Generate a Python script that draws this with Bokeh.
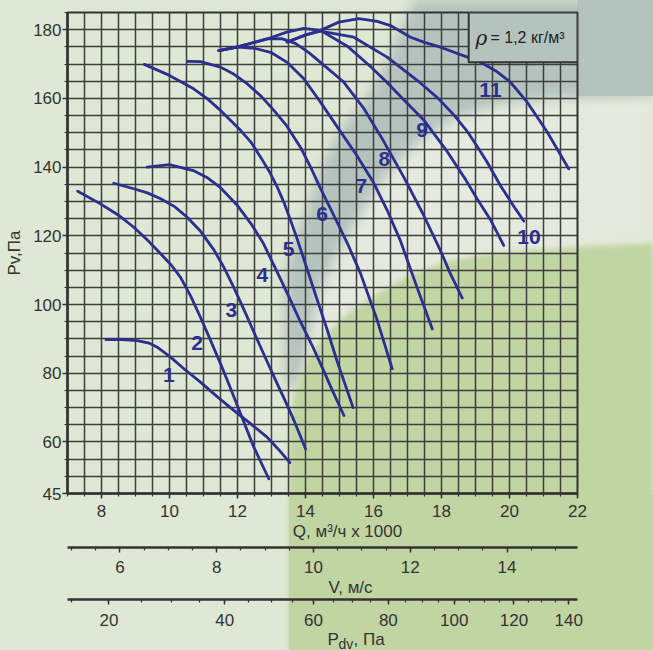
from urllib.parse import quote

import numpy as np
from bokeh.plotting import figure
from bokeh.layouts import column
from bokeh.models import (Range1d, FixedTicker, Label, BoxAnnotation,
                          CustomJSTickFormatter, Styles)
from bokeh.core.properties import value
from bokeh.embed import file_html
from bokeh.resources import INLINE

# ---------------------------------------------------------------------------
# Fan curves: flow Q (thousand m3/h) against static pressure Pv (Pa)
# ---------------------------------------------------------------------------
q1 = [8.13, 8.6, 9.05, 9.4, 9.64, 10.03, 10.45, 10.91, 11.4, 11.89, 12.4, 12.87, 13.2, 13.54]
p1 = [89.8, 89.8, 89.5, 88.8, 87.6, 84.7, 81.1, 77.4, 73.2, 69.2, 65.2, 61.4, 57.9, 54.0]

q2 = [7.30, 7.97, 8.5, 8.95, 9.35, 9.74, 10.05, 10.32, 10.62, 10.91, 11.2, 11.5, 11.8, 12.09, 12.48, 12.92]
p2 = [133.0, 129.3, 126.0, 122.5, 118.8, 114.8, 111.5, 108.0, 102.5, 96.3, 89.7, 82.8, 75.5, 68.2, 58.5, 49.3]

q3 = [8.36, 8.95, 9.35, 9.74, 10.15, 10.52, 10.9, 11.3, 11.6, 11.89, 12.2, 12.48, 12.83, 13.17, 13.42, 13.66, 14.0]
p3 = [135.3, 133.7, 132.5, 130.8, 128.5, 125.4, 121.5, 116.0, 110.8, 105.0, 98.3, 92.0, 84.3, 76.9, 71.6, 66.3, 58.0]

q4 = [9.34, 10.0, 10.7, 11.1, 11.5, 12.0, 12.4, 12.75, 13.2, 13.5, 13.85, 14.2, 14.5, 14.8, 15.13]
p4 = [140.0, 140.7, 139.0, 137.0, 134.0, 128.8, 123.5, 118.0, 108.8, 102.5, 95.0, 88.0, 81.5, 74.8, 67.7]

q5 = [9.26, 9.93, 10.71, 11.1, 11.5, 12.09, 12.4, 12.68, 12.93, 13.17, 13.37, 13.56, 13.73, 13.9, 14.34, 14.65, 14.93, 15.4]
p5 = [169.9, 167.0, 162.8, 160.0, 156.5, 150.7, 147.2, 142.9, 138.8, 134.2, 129.6, 124.5, 119.8, 114.8, 101.5, 92.3, 83.5, 70.0]

q6 = [10.52, 10.91, 11.5, 11.9, 12.29, 12.7, 13.07, 13.45, 13.85, 14.15, 14.44, 14.93, 15.26, 15.62, 16.11, 16.55]
p6 = [170.8, 170.7, 169.1, 167.0, 164.2, 160.6, 156.5, 152.0, 145.8, 140.0, 133.8, 124.0, 117.2, 109.0, 95.4, 81.3]

q7 = [11.45, 12.0, 12.5, 13.0, 13.46, 13.95, 14.44, 14.95, 15.5, 16.0, 16.4, 16.79, 17.28, 17.73]
p7 = [173.9, 174.9, 174.6, 173.3, 170.5, 165.7, 158.9, 151.5, 143.5, 135.5, 127.5, 118.6, 105.0, 92.9]

q8 = [11.45, 12.0, 12.87, 13.3, 13.7, 14.1, 14.44, 15.1, 15.72, 16.3, 16.89, 17.45, 17.97, 18.26, 18.61]
p8 = [173.9, 175.0, 177.3, 177.4, 176.0, 173.3, 170.5, 165.0, 157.0, 147.5, 137.1, 126.5, 115.7, 109.0, 101.9]

q9 = [11.45, 12.0, 12.87, 13.45, 13.95, 14.44, 15.23, 15.91, 16.4, 16.89, 17.47, 18.17, 18.7, 19.05, 19.45, 19.83]
p9 = [173.9, 175.0, 177.3, 179.3, 180.4, 179.8, 175.2, 169.3, 164.6, 159.6, 153.8, 144.5, 136.5, 130.7, 124.5, 117.2]

q10 = [13.46, 14.0, 14.44, 15.42, 16.4, 17.38, 17.9, 18.4, 18.75, 19.05, 19.34, 19.74, 20.1, 20.42]
p10 = [176.4, 178.5, 179.6, 177.8, 172.0, 164.5, 160.0, 154.8, 150.5, 146.0, 141.5, 134.5, 129.0, 124.3]

q11 = [13.46, 14.0, 14.44, 14.98, 15.57, 16.11, 16.5, 17.09, 17.5, 17.97, 18.76, 19.15, 19.6, 20.03, 20.52, 21.11, 21.74]
p11 = [176.4, 178.4, 179.8, 182.2, 183.2, 182.4, 181.2, 177.8, 176.3, 174.9, 172.0, 170.5, 168.0, 164.7, 158.9, 150.2, 139.5]

curve_q = [q1, q2, q3, q4, q5, q6, q7, q8, q9, q10, q11]
curve_p = [p1, p2, p3, p4, p5, p6, p7, p8, p9, p10, p11]
curve_names = ["1", "2", "3", "4", "5", "6", "7", "8", "9", "10", "11"]

# where each curve number sits (Q, Pv)
name_q = [9.98, 10.81, 11.82, 12.73, 13.5, 14.49, 15.64, 16.32, 17.43, 20.57, 19.44]
name_p = [79.4, 88.8, 98.3, 108.5, 116.2, 126.4, 134.6, 142.4, 150.9, 119.8, 162.4]

# axis ticks
q_ticks = [8, 10, 12, 14, 16, 18, 20, 22]
pv_ticks = [45, 60, 80, 100, 120, 140, 160, 180]
v_ticks = [6, 8, 10, 12, 14]
pdv_ticks = [20, 40, 60, 80, 100, 120, 140]

# air density and duct cross-section used for the velocity / dynamic pressure scales
RHO = 1.2
DUCT_AREA = 0.3954
K_V = 1000.0 / 3600.0 / DUCT_AREA      # m/s per thousand m3/h

Q_MIN, Q_MAX = 7.0, 22.0
PV_MIN, PV_MAX = 45.0, 185.0

# ---------------------------------------------------------------------------
# styling
# ---------------------------------------------------------------------------
FONT = "Liberation Sans"
INK = "#333333"
BLUE = "#2b2f8f"
GRID = "#3e3e3e"
W = 653

# page backdrop: pale green, a blurred grey diagonal band and a green lower right
BACKDROP = """<svg xmlns='http://www.w3.org/2000/svg' width='653' height='650' viewBox='0 0 653 650'>
<defs>
<filter id='s' x='-20%' y='-20%' width='140%' height='140%'><feGaussianBlur stdDeviation='6'/></filter>
<filter id='t' x='-20%' y='-20%' width='140%' height='140%'><feGaussianBlur stdDeviation='2.5'/></filter>
</defs>
<rect width='653' height='650' fill='#dfe8d4'/>
<polygon fill='#e4eadd' filter='url(#s)' points='380,100 653,96 653,245 577,248 480,255 420,270 370,295 330,325 305,360 298,390 305,300 330,230'/>
<polygon fill='#b5c3be' filter='url(#s)' points='415,0 398,35 383,70 365,100 340,130 322,165 308,205 295,240 286,270 284,330 286,385 296,390 304,360 312,320 322,285 335,258 350,232 368,200 390,170 420,140 455,118 500,104 560,98 653,96 653,0'/>
<polygon fill='#c1d5a3' filter='url(#t)' points='289,650 289,420 296,390 308,360 325,335 350,312 380,292 410,275 445,262 490,254 577,247 653,243 653,650'/>
<rect x='577' y='0' width='76' height='96' fill='#b5c3be'/>
<rect x='289' y='494' width='364' height='156' fill='#c1d5a3'/>
</svg>"""


def style_axis(ax, size="17px"):
    ax.axis_line_color = INK
    ax.axis_line_width = 2.5
    ax.major_tick_line_color = INK
    ax.major_tick_line_width = 1.5
    ax.minor_tick_line_color = INK
    ax.minor_tick_line_width = 1.2
    ax.major_tick_out = 5
    ax.major_tick_in = 0
    ax.minor_tick_out = 3
    ax.minor_tick_in = 0
    ax.major_label_text_font = FONT
    ax.major_label_text_font_size = size
    ax.major_label_text_color = INK
    ax.axis_label_text_font = FONT
    ax.axis_label_text_font_size = size
    ax.axis_label_text_font_style = "normal"
    ax.axis_label_text_color = INK


def bare_figure(height, **kw):
    f = figure(width=W, height=height, output_backend="svg", toolbar_location=None,
               background_fill_color=None, border_fill_color=None, outline_line_color=None,
               **kw)
    f.grid.visible = False
    return f


def caption_strip(height, pieces):
    """A thin strip whose frame holds an axis caption.

    pieces = (text, x, y, size, align); x is measured from the left edge of the
    chart frame (the column lines all frames up), y from the strip's bottom to
    the middle of the text.
    """
    f = bare_figure(height, x_range=Range1d(0, 1), y_range=Range1d(0, 1),
                    x_axis_location=None, y_axis_location=None,
                    min_border_left=0, min_border_right=0, min_border_top=0, min_border_bottom=0)
    for text, x, y, size, align in pieces:
        f.add_layout(Label(x=x, y=y, x_units="screen", y_units="screen", text=text,
                           text_font=FONT, text_font_size=size, text_color=INK,
                           text_align=align, text_baseline="middle"))
    return f


def scale_strip(height, x_range, ticker, standoff, frame_px, formatter=None):
    """A strip carrying one extra horizontal scale along its top edge."""
    f = bare_figure(height, x_range=x_range, y_range=Range1d(0, 1), y_axis_location=None,
                    min_border_left=67, min_border_right=76, min_border_top=0,
                    min_border_bottom=height - frame_px)
    style_axis(f.xaxis[0])
    f.xaxis.ticker = ticker
    f.xaxis.major_label_standoff = standoff
    if formatter is not None:
        f.xaxis.formatter = formatter
    return f


# ---------------------------------------------------------------------------
# main chart
# ---------------------------------------------------------------------------
p = figure(width=W, height=521, x_range=Range1d(Q_MIN, Q_MAX), y_range=Range1d(PV_MIN, PV_MAX),
           output_backend="svg", toolbar_location=None,
           min_border_left=67, min_border_right=76, min_border_top=12, min_border_bottom=28,
           background_fill_color=None, border_fill_color=None,
           outline_line_color=INK, outline_line_width=2)

p.xgrid.ticker = FixedTicker(ticks=list(np.arange(Q_MIN, Q_MAX + 0.01, 0.5)))
p.ygrid.ticker = FixedTicker(ticks=list(np.arange(PV_MIN, PV_MAX + 0.01, 5.0)))
p.grid.grid_line_color = GRID
p.grid.grid_line_width = 1.5

style_axis(p.xaxis[0])
p.xaxis.ticker = FixedTicker(ticks=q_ticks, minor_ticks=list(np.arange(Q_MIN, Q_MAX + 0.01, 0.5)))
p.xaxis.major_label_standoff = 6

style_axis(p.yaxis[0])
p.yaxis.ticker = FixedTicker(ticks=pv_ticks, minor_ticks=list(np.arange(PV_MIN, PV_MAX + 0.01, 5.0)))
p.yaxis.major_label_standoff = 1
p.yaxis.axis_label = "Pv,Па"
p.yaxis.axis_label_standoff = 6

for qs, ps in zip(curve_q, curve_p):
    p.line(qs, ps, line_color=BLUE, line_width=2.8, line_cap="round", line_join="round")

p.text(x=name_q, y=name_p, text=curve_names, text_font=value(FONT),
       text_font_style=value("bold"), text_font_size=value("21px"), text_color=BLUE,
       text_align=value("center"), text_baseline=value("middle"))

# density box in the upper right corner
p.add_layout(BoxAnnotation(left=18.8, right=Q_MAX, bottom=170.5, top=PV_MAX,
                           fill_color="#b5c3be", fill_alpha=1.0,
                           line_color=INK, line_width=2, line_alpha=1.0))
p.add_layout(Label(x=19.0, y=177.6, text="ρ", text_font="DejaVu Serif",
                   text_font_size="20px", text_font_style="italic", text_color="#1e1e1e",
                   text_align="left", text_baseline="middle"))
p.add_layout(Label(x=19.44, y=177.8, text="= 1,2 кг/м³", text_font=FONT,
                   text_font_size="16px", text_color="#1e1e1e",
                   text_align="left", text_baseline="middle"))

# ---------------------------------------------------------------------------
# captions and the two extra scales below the chart
# ---------------------------------------------------------------------------
def q_for_pdv(pd):
    return float(np.sqrt(2.0 * pd / RHO) / K_V)


q_caption = caption_strip(22, [("Q, м³/ч x 1000", 280, 12, "17px", "center")])

v_scale = scale_strip(34, Range1d(Q_MIN * K_V, Q_MAX * K_V),
                      FixedTicker(ticks=v_ticks, minor_ticks=list(np.arange(5.0, 15.51, 0.5))),
                      standoff=8, frame_px=4)
v_caption = caption_strip(20, [("V, м/с", 283, 10, "17px", "center")])

pdv_scale = scale_strip(33, Range1d(Q_MIN, Q_MAX),
                        FixedTicker(ticks=[q_for_pdv(v) for v in pdv_ticks],
                                    minor_ticks=[q_for_pdv(v) for v in range(15, 145, 5)]),
                        standoff=9, frame_px=2,
                        formatter=CustomJSTickFormatter(
                            args=dict(k=K_V, rho=RHO),
                            code="const v = tick * k; return String(Math.round(rho * v * v / 2));"))
pdv_caption = caption_strip(20, [("P", 260, 11, "17px", "left"),
                                 ("dv", 271, 7, "14px", "left"),
                                 (", Па", 286, 11, "17px", "left")])

layout = column(p, q_caption, v_scale, v_caption, pdv_scale, pdv_caption, spacing=0)
layout.styles = Styles(
    background_image='url("data:image/svg+xml;charset=utf-8,' + quote(BACKDROP) + '")',
    background_repeat="no-repeat",
    background_size="653px 650px",
)

open("out.html", "w").write(file_html(layout, INLINE))
